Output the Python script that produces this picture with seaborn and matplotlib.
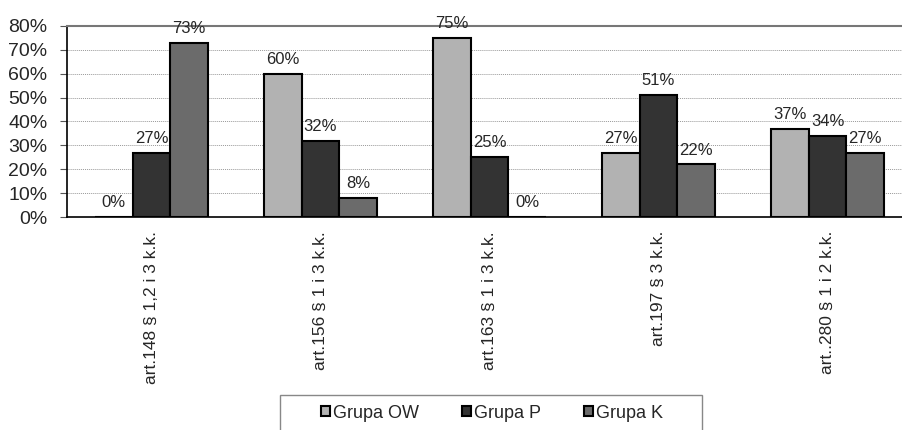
import pandas as pd
import matplotlib
matplotlib.use("Agg")
import matplotlib.pyplot as plt
import matplotlib.patches as mpatches
import seaborn as sns

categories = ["art.148 § 1,2 i 3 k.k.", "art.156 § 1 i 3 k.k.", "art.163 § 1 i 3 k.k.",
              "art.197 § 3 k.k.", "art..280 § 1 i 2 k.k."]
groups = ["Grupa OW", "Grupa P", "Grupa K"]
grupa_ow = [0, 60, 75, 27, 37]
grupa_p = [27, 32, 25, 51, 34]
grupa_k = [73, 8, 0, 22, 27]
colors = ["#b2b2b2", "#333333", "#6b6b6b"]

df = pd.DataFrame({
    "kategoria": categories * 3,
    "grupa": [groups[0]] * 5 + [groups[1]] * 5 + [groups[2]] * 5,
    "wartosc": grupa_ow + grupa_p + grupa_k,
})

sns.set_style("white")
plt.rcParams["font.family"] = ["Liberation Sans", "DejaVu Sans"]

W, H = 903, 430
fig = plt.figure(figsize=(W / 100, H / 100), dpi=100)
ax = fig.add_axes([67 / W, 1 - 217 / H, 845 / W, 191 / H])

sns.barplot(data=df, x="kategoria", y="wartosc", hue="grupa", order=categories,
            hue_order=groups, palette=colors, width=0.67, gap=0,
            edgecolor="black", linewidth=1.5, saturation=1, ax=ax, legend=True)

for cont in ax.containers:
    ax.bar_label(cont, fmt="%d%%", padding=5, fontsize=12)

ax.set_ylim(0, 80)
ax.set_xlim(-0.5, 4.5)
ax.set_yticks(range(0, 81, 10))
ax.set_yticklabels([f"{v}%" for v in range(0, 81, 10)], fontsize=14)
ax.yaxis.grid(True, linestyle=(0, (1, 1)), color="#999999", linewidth=0.7)
ax.set_axisbelow(True)

ax.set_xticks(range(5))
ax.set_xticklabels(categories, rotation=90, fontsize=12.5, va="top")
ax.tick_params(axis="x", length=0, pad=10)
ax.set_xticks([i - 0.5 for i in range(6)], minor=True)
ax.tick_params(axis="x", which="minor", length=5, color="#555555", direction="out")
ax.tick_params(axis="y", length=5, color="#555555", direction="out", left=True, pad=9)
ax.set_xlabel("")
ax.set_ylabel("")

for s in ["left", "bottom"]:
    ax.spines[s].set_color("black")
    ax.spines[s].set_linewidth(1.2)
ax.spines["top"].set_color("#777777")
ax.spines["top"].set_linewidth(1.5)
ax.spines["right"].set_visible(False)

handles, labels = ax.get_legend_handles_labels()
ax.get_legend().remove()
frame = mpatches.Rectangle((280 / W, 1 - 440 / H), 422 / W, 45 / H, transform=fig.transFigure,
                           facecolor="white", edgecolor="#888888", linewidth=1.0)
fig.patches.append(frame)
fig.legend(handles, labels, loc="center", bbox_to_anchor=(492 / W, 1 - 413 / H),
           ncol=3, fontsize=13, frameon=False,
           handlelength=0.5, handleheight=0.5, handletextpad=0.15, columnspacing=2.4,
           borderpad=0, borderaxespad=0)

plt.savefig("out.png", dpi=100)
